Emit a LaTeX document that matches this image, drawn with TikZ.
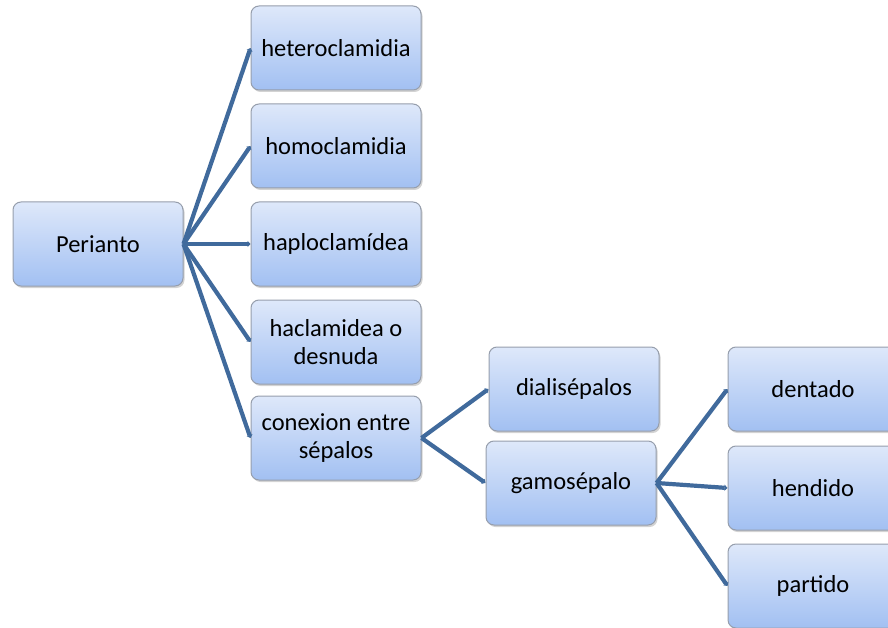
\documentclass[tikz,border=0pt]{standalone}
\usepackage{fontspec}
\setmainfont{Carlito}
\usetikzlibrary{arrows.meta,shadows}
\definecolor{boxtop}{RGB}{222,232,250}
\definecolor{boxbot}{RGB}{162,192,242}
\definecolor{boxline}{RGB}{150,158,172}
\definecolor{conn}{RGB}{64,106,156}
\tikzset{
  box/.style={draw=boxline, line width=1pt, rounded corners=8pt, top color=boxtop, bottom color=boxbot,
    minimum width=170pt, minimum height=84pt, align=center, inner sep=2pt,
    font=\fontsize{24.5}{28}\selectfont, text=black,
    drop shadow={shadow xshift=1.5pt, shadow yshift=-2pt, opacity=0.35, fill=gray}},
  link/.style={draw=conn, line width=4.2pt, -{Triangle[length=3pt,width=6pt]}}
}
\begin{document}
\begin{tikzpicture}[x=1pt,y=-1pt]
\useasboundingbox (0,0) rectangle (888,628);
\node[box] (per) at (98,244) {Perianto};
\node[box] (het) at (336,48) {heteroclamidia};
\node[box] (hom) at (336,146) {homoclamidia};
\node[box] (hap) at (336,244) {haploclamídea};
\node[box] (hac) at (336,342) {haclamidea o\\desnuda};
\node[box] (con) at (336,438) {conexion entre\\sépalos};
\node[box] (dia) at (574,389) {dialisépalos};
\node[box] (gam) at (571,483) {gamosépalo};
\node[box] (den) at (813,389) {dentado};
\node[box] (hen) at (813,488) {hendido};
\node[box] (par) at (813,586) {partido};
\foreach \t in {het,hom,hap,hac,con}
  \draw[link] (per.east) -- (\t.west);
\draw[link] (con.east) -- (dia.west);
\draw[link] (con.east) -- (gam.west);
\foreach \t in {den,hen,par}
  \draw[link] (gam.east) -- (\t.west);
\end{tikzpicture}
\end{document}
